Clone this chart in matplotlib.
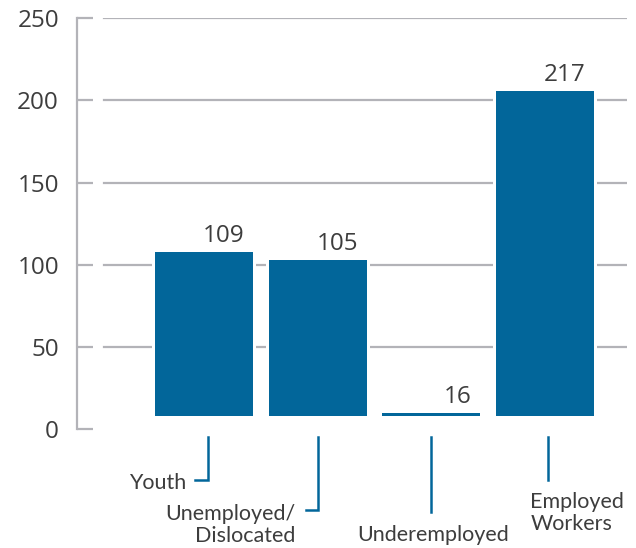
import numpy as np
import matplotlib.pyplot as plt

# values printed above the bars
categories = ["Youth", "Unemployed/\nDislocated", "Underemployed", "Employed\nWorkers"]
values = [109, 105, 16, 217]
# bar extents as drawn in the source picture (bars float slightly above zero)
bar_bottom = [8.1, 8.1, 8.1, 8.1]
bar_top = [107.9, 103.0, 10.0, 205.8]
yticks = [0, 50, 100, 150, 200, 250]

BLUE = "#02669a"
GRID = "#b3b3b8"
TEXT = "#3d3d3d"

W, H = 636, 548
fig = plt.figure(figsize=(W / 100, H / 100), dpi=100)
ax = fig.add_axes([77 / W, 118.6 / H, 550 / W, 411.2 / H])

x = np.arange(len(values))
pxu = 113.5  # pixels per category step
xlo, xhi = -127 / pxu, 3 + 82.5 / pxu
ax.set_xlim(xlo, xhi)
ax.set_ylim(0, 250)

# gridlines start a little right of the spine
gstart = (-100 / pxu - xlo) / (xhi - xlo)
for t in yticks[1:]:
    ax.axhline(t, xmin=gstart, xmax=1, color=GRID, lw=1.6, zorder=1)

heights = np.array(bar_top) - np.array(bar_bottom)
width = 98 / pxu
# white halo so the gridlines break around the bars
ax.bar(x, heights, width + 6 / pxu, bottom=bar_bottom, color="white", zorder=2)
ax.bar(x, heights, width, bottom=bar_bottom, color=BLUE, zorder=3)

for xi, top, v in zip(x, bar_top, values):
    ax.annotate(str(v), (xi + width / 2, top), xytext=(-6, 3), textcoords="offset points",
                ha="right", va="bottom", fontsize=17.5, color=TEXT, family="Open Sans")

# axis styling
for s in ["top", "right", "bottom"]:
    ax.spines[s].set_visible(False)
ax.spines["left"].set_color(GRID)
ax.spines["left"].set_linewidth(1.6)
ax.spines["left"].set_bounds(0, 250)
ax.set_xticks([])
ax.set_yticks(yticks)
ax.tick_params(axis="y", direction="in", length=11.5, width=1.6, color=GRID,
               pad=13, labelsize=17.5, labelcolor=TEXT)
for lab in ax.get_yticklabels():
    lab.set_family("Open Sans")

# leader lines and category labels under the axis
line_x = [4 / pxu, 0, 0, 3 / pxu]
line_end = [-30.8, -49.0, -50.2, -30.8]
tail = [-13 / pxu, -12 / pxu, 0, 0]
lab_pos = [(-22 / pxu, -32.6, "right"), (-22 / pxu, -58.0, "right"),
           (2 / pxu, -64.2, "center"), (-17 / pxu, -50.8, "left")]
for xi, dx, ye, tl, (lx, ly, ha), cat in zip(x, line_x, line_end, tail, lab_pos, categories):
    xs = xi + dx
    ax.plot([xs, xs, xs + tl], [-4.6, ye, ye], color=BLUE, lw=1.8, clip_on=False,
            solid_joinstyle="miter")
    ax.text(xs + lx, ly, cat, ha=ha, va="center", multialignment=ha, fontsize=15.5,
            color=TEXT, family="Lato", linespacing=1.15, clip_on=False)

fig.savefig("out.png", dpi=100)
